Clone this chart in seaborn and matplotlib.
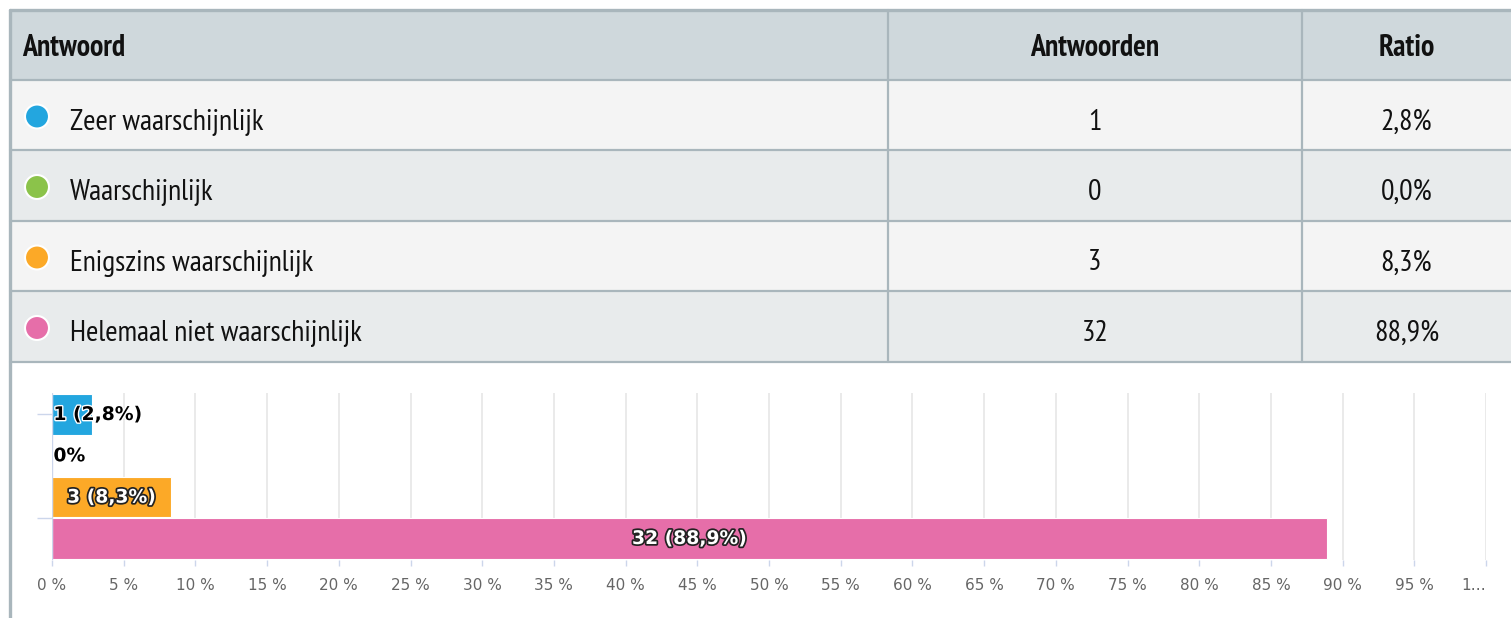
import matplotlib
matplotlib.use("Agg")
import matplotlib.pyplot as plt
import matplotlib.patheffects as pe
import matplotlib.transforms as mtransforms
from matplotlib import font_manager
from matplotlib.patches import Rectangle, Circle
import seaborn as sns
import pandas as pd

# data
answers = ["Zeer waarschijnlijk", "Waarschijnlijk", "Enigszins waarschijnlijk", "Helemaal niet waarschijnlijk"]
counts = [1, 0, 3, 32]
ratios = [2.8, 0.0, 8.3, 88.9]
colors = ["#23a6df", "#8bc34a", "#fca927", "#e66ea9"]
headers = ["Antwoord", "Antwoorden", "Ratio"]
x_ticks = list(range(0, 101, 5))

sns.set_theme(style="white")
plt.rcParams["font.family"] = ["DejaVu Sans"]

# pick a narrow font for the table if one is installed
installed = {f.name for f in font_manager.fontManager.ttflist}
narrow = next((n for n in ["PT Sans Narrow", "Roboto Condensed", "Fira Sans Condensed",
                           "Ubuntu Condensed", "Liberation Sans Narrow", "Open Sans Condensed"]
               if n in installed), "Roboto")
table_font = [narrow, "DejaVu Sans"]

W, H = 1511, 618
fig = plt.figure(figsize=(W / 100, H / 100), dpi=100)

# table drawn in pixel coordinates
tab = fig.add_axes([0, 0, 1, 1])
tab.set_xlim(0, W)
tab.set_ylim(H, 0)
tab.axis("off")

border = "#a9b6bc"
row_top = [10, 80, 150, 221, 291, 362]
col_x = [10, 888, 1302, W]
fills = ["#cfd8dc", "#f4f4f4", "#e8ebec", "#f4f4f4", "#e8ebec"]
for i, f in enumerate(fills):
    tab.add_patch(Rectangle((10, row_top[i]), W - 10, row_top[i + 1] - row_top[i],
                            facecolor=f, edgecolor="none", zorder=0))
for y in row_top[1:]:
    tab.plot([10, W], [y, y], color=border, lw=1.6, zorder=2)
tab.plot([10, W], [10, 10], color=border, lw=2.4, zorder=2)
tab.plot([10, 10], [10, H], color=border, lw=2.4, zorder=2)
for x in col_x[1:3]:
    tab.plot([x, x], [10, 362], color=border, lw=1.6, zorder=2)

hy = (row_top[0] + row_top[1]) / 2 + 11
head_kw = dict(fontsize=21.5, fontweight="bold", family=table_font, va="baseline", color="#111111")
tab.text(22, hy, headers[0], ha="left", **head_kw)
tab.text((col_x[1] + col_x[2]) / 2, hy, headers[1], ha="center", **head_kw)
tab.text((col_x[2] + col_x[3]) / 2, hy, headers[2], ha="center", **head_kw)

cell_kw = dict(fontsize=21.5, family=table_font, va="baseline", color="#111111")
for i, (a, n, r, c) in enumerate(zip(answers, counts, ratios, colors)):
    cy = (row_top[i + 1] + row_top[i + 2]) / 2
    tab.add_patch(Circle((37, cy + 1.5), 12, facecolor=c, edgecolor="white", lw=1.5, zorder=3))
    tab.text(70, cy + 14.5, a, ha="left", **cell_kw)
    tab.text((col_x[1] + col_x[2]) / 2, cy + 14.5, str(n), ha="center", **cell_kw)
    tab.text((col_x[2] + col_x[3]) / 2, cy + 14.5, f"{r:.1f}%".replace(".", ","),
             ha="center", **cell_kw)

# bar chart
ax = fig.add_axes([52 / W, 1 - 560 / H, 1434 / W, (560 - 393) / H])
df = pd.DataFrame({"answer": answers, "ratio": ratios})
sns.barplot(data=df, x="ratio", y="answer", hue="answer", palette=colors, saturation=1,
            orient="h", width=0.97, legend=False, ax=ax, zorder=3,
            edgecolor="white", linewidth=0.8)
ax.set_xlim(0, 100)
ax.set_ylim(3.52, -0.52)
ax.set_xlabel("")
ax.set_ylabel("")
for s in ax.spines.values():
    s.set_visible(False)
ax.patch.set_alpha(0)
ax.set_xticks(x_ticks)
ax.set_xticklabels([f"{v} %" if v < 100 else "1…" for v in x_ticks],
                   fontsize=11, color="#666666")
# last label is cut off in the original, sits a bit to the left
last = ax.get_xticklabels()[-1]
last.set_ha("right")
last.set_transform(last.get_transform() + mtransforms.ScaledTranslation(-0.04, 0, fig.dpi_scale_trans))
ax.grid(axis="x", color="#e6e6e6", lw=1.2, zorder=0)
ax.tick_params(axis="x", bottom=True, length=4, width=1, color="#ccd6eb", pad=9)
ax.set_yticks([0, 2.5])
ax.set_yticklabels(["", ""])
ax.tick_params(axis="y", left=True, length=11, width=1, color="#ccd6eb")
ax.axvline(0, color="#ccd6eb", lw=1, zorder=4)

for i, (n, r) in enumerate(zip(counts, ratios)):
    txt = f"{n} ({r:.1f}%)".replace(".", ",") if n > 0 else "0%"
    if r > 6:
        ax.text(r / 2, i, txt, ha="center", va="center", fontsize=13.5, fontweight="bold",
                color="white", zorder=5,
                path_effects=[pe.withStroke(linewidth=2.5, foreground="#222222")])
    else:
        ax.text(0.1, i, txt, ha="left", va="center", fontsize=13.5, fontweight="bold",
                color="black", zorder=5,
                path_effects=[pe.withStroke(linewidth=2, foreground="white")])

fig.savefig("out.png", dpi=100)
